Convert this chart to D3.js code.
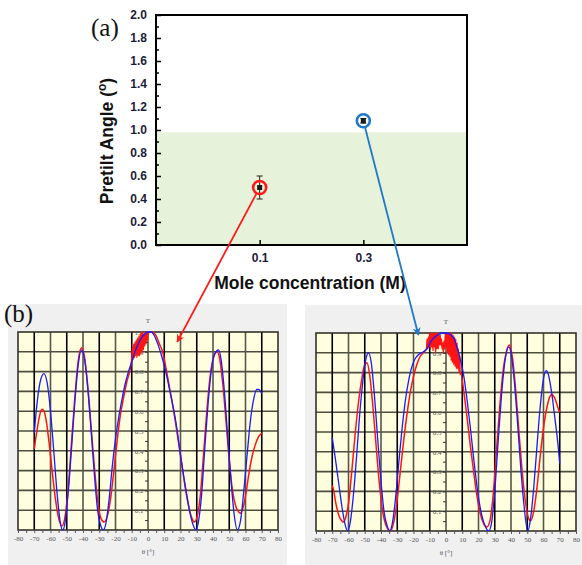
<!DOCTYPE html>
<html>
<head>
<meta charset="utf-8">
<script src="https://cdn.jsdelivr.net/npm/d3@7"></script>
<style>
  body { margin: 0; background: #fff; }
  svg { display: block; }
</style>
</head>
<body>
<script>
// ---- (a) pretilt data ----
var concentrations = [0.1, 0.3];
var pretilt = [0.5, 1.08];
var pretiltErr = [0.1, 0.02];
var pointColors = ["#ff1a1a", "#1f78c8"];
var greenBandTop = 0.98;
var concTicks = [0.1, 0.3];

// ---- (b) transmission curves, [angle, T] ----
var leftBlue = [[-70,0.49],[-68,0.66],[-66,0.76],[-64,0.79],[-62,0.74],[-60,0.6],[-58,0.4],[-56,0.19],[-54,0.04],[-52.5,0],[-51,0.04],[-49,0.2],[-47,0.42],[-45,0.65],[-43,0.83],[-41,0.91],[-39,0.86],[-37,0.71],[-35,0.5],[-33,0.28],[-31,0.1],[-29,0.02],[-27.5,0],[-26,0.03],[-24,0.15],[-22,0.32],[-20,0.46],[-18,0.57],[-16,0.66],[-14,0.74],[-12,0.8],[-10,0.85],[-8,0.9],[-6,0.94],[-4,0.97],[-2,0.99],[0,1.0],[2,1.0],[4,0.98],[6,0.94],[8,0.89],[10,0.83],[12,0.76],[14,0.68],[16,0.6],[18,0.5],[20,0.38],[22,0.27],[24,0.17],[26,0.08],[28,0.02],[29.5,0],[31,0.04],[33,0.18],[35,0.42],[37,0.64],[39,0.81],[41,0.89],[43.5,0.91],[45,0.86],[47,0.7],[49,0.48],[51,0.26],[53,0.08],[55,0],[57,0.05],[59,0.2],[61,0.38],[63,0.55],[65,0.66],[67,0.71],[68,0.71],[70,0.69]];
var leftRed = [[-70,0.41],[-68,0.52],[-66,0.6],[-65,0.61],[-63,0.57],[-61,0.45],[-59,0.3],[-57,0.16],[-55,0.06],[-53,0.02],[-51,0.07],[-49,0.22],[-47,0.45],[-45,0.67],[-43,0.85],[-41,0.92],[-39,0.87],[-37,0.72],[-35,0.52],[-33,0.32],[-31,0.15],[-29,0.06],[-27,0.04],[-25,0.07],[-23,0.16],[-21,0.3],[-19,0.45],[-17,0.58],[-15,0.67],[-13,0.75],[-11,0.81],
  [-10,0.86],[-9.6,0.92],[-9.2,0.86],[-8.8,0.94],[-8.4,0.87],[-8,0.95],[-7.6,0.88],[-7.2,0.96],[-6.8,0.87],[-6.4,0.97],[-6,0.88],[-5.6,0.98],[-5.2,0.88],[-4.8,0.99],[-4.4,0.89],[-4,1.0],[-3.6,0.9],[-3.2,1.0],[-2.8,0.91],[-2.4,0.99],[-2,0.93],[-1.6,1.0],[-1.2,0.94],[-0.8,1.0],[-0.4,0.96],
  [0,0.99],[1,1.0],[3,1.0],[5,0.98],[7,0.94],[9,0.9],[11,0.82],[13,0.73],[15,0.64],[17,0.54],[19,0.43],[21,0.32],[23,0.21],[25,0.12],[27,0.06],[28.5,0.04],[30,0.06],[32,0.16],[34,0.36],[36,0.58],[38,0.76],[40,0.86],[42.5,0.9],[44,0.87],[46,0.74],[48,0.55],[50,0.35],[52,0.2],[54,0.12],[56,0.09],[57,0.085],[58,0.1],[60,0.17],[62,0.28],[64,0.37],[66,0.43],[68,0.47],[70,0.49]];
var rightBlue = [[-70,0.47],[-68,0.36],[-66,0.24],[-64,0.12],[-62,0.03],[-60.5,0],[-59,0.04],[-57,0.18],[-55,0.38],[-53,0.6],[-51,0.77],[-49,0.88],[-47.6,0.9],[-46,0.85],[-44,0.68],[-42,0.46],[-40,0.25],[-38,0.09],[-36,0.02],[-34.7,0],[-33,0.04],[-31,0.17],[-29,0.35],[-27,0.52],[-25,0.66],[-23,0.76],[-21,0.83],[-19,0.87],[-17,0.89],[-15,0.9],[-13,0.91],[-11,0.93],[-9,0.96],[-7,0.98],[-5,0.99],[-3,1.0],[0,1.0],[3,0.99],[5,0.97],[7,0.92],[9,0.86],[11,0.78],[13,0.66],[15,0.52],[17,0.37],[19,0.23],[21,0.12],[23,0.05],[25,0.01],[26.3,0],[28,0.04],[30,0.2],[32,0.44],[34,0.67],[36,0.84],[38.6,0.93],[40,0.9],[42,0.76],[44,0.55],[46,0.32],[48,0.13],[50.3,0],[52,0.06],[54,0.22],[56,0.43],[58,0.63],[60,0.77],[61.7,0.81],[63,0.79],[65,0.7],[67,0.57],[69,0.43],[70,0.34]];
var rightRed = [[-70,0.23],[-69,0.2],[-68,0.15],[-66,0.08],[-64,0.05],[-63,0.045],[-62,0.06],[-60,0.14],[-58,0.3],[-56,0.48],[-54,0.64],[-52,0.76],[-50,0.84],[-48.6,0.85],[-47,0.79],[-45,0.63],[-43,0.43],[-41,0.24],[-39,0.1],[-37,0.03],[-34.3,0],[-32,0.05],[-30,0.16],[-28,0.31],[-26,0.46],[-24,0.59],[-22,0.7],[-20,0.78],[-18,0.84],[-16,0.88],[-14,0.9],
  [-12,0.92],[-11.6,0.97],[-11.2,0.92],[-10.8,0.98],[-10.4,0.93],[-10,1.0],[-9.6,0.92],[-9.2,1.0],[-8.8,0.93],[-8.4,1.0],[-8,0.91],[-7.6,1.0],[-7.2,0.93],[-6.8,1.0],[-6.4,0.9],[-6,1.0],[-5.6,0.92],[-5.2,1.0],[-4.8,0.92],[-4.4,0.99],[-4,0.94],[-3.6,0.99],[-3.2,0.94],[-2.8,0.97],[-2.4,0.92],[-2,0.95],[-1.6,0.9],[-1.2,0.96],[-0.8,0.92],[-0.4,1.0],[0,0.93],[0.4,1.0],[0.8,0.9],[1.2,1.0],[1.6,0.89],[2,1.0],[2.4,0.88],[2.8,1.0],[3.2,0.86],[3.6,1.0],[4,0.85],[4.4,0.99],[4.8,0.84],[5.2,0.98],[5.6,0.83],[6,0.97],[6.4,0.82],[6.8,0.95],[7.2,0.82],[7.6,0.92],[8,0.8],[8.4,0.89],[8.7,0.79],
  [9,0.8],[11,0.7],[13,0.57],[15,0.43],[17,0.3],[19,0.18],[21,0.09],[23,0.04],[25.2,0.02],[27,0.05],[29,0.18],[31,0.4],[33,0.62],[35,0.8],[37,0.9],[39,0.94],[41,0.87],[43,0.7],[45,0.49],[47,0.29],[49,0.14],[51,0.06],[52,0.05],[54,0.1],[56,0.22],[58,0.38],[60,0.52],[62,0.62],[64,0.68],[65,0.69],[67,0.67],[69,0.62],[70,0.6]];

// where the connector arrows land, in (angle, T) of each lower panel
var arrowTargets = [[18, 0.95], [-17, 0.99]];

var W = 582, H = 565;
var svg = d3.select("body").append("svg").attr("width", W).attr("height", H);

var defs = svg.append("defs");
pointColors.forEach(function(c, i) {
    defs.append("marker")
        .attr("id", "arr" + i)
        .attr("viewBox", "0 -5 10 10")
        .attr("refX", 9).attr("refY", 0)
        .attr("markerWidth", 4.5).attr("markerHeight", 4.5)
        .attr("orient", "auto")
        .append("path")
        .attr("d", "M0,-5L10,0L0,5L3,0Z")
        .attr("fill", c);
});

// ---------- lower panels ----------
var panels = [
    {bg: [8, 304, 279, 261], box: {x0: 18, x1: 278, y0: 332, y1: 530}, blue: leftBlue, red: leftRed},
    {bg: [305, 305, 277, 260], box: {x0: 316, x1: 576, y0: 333, y1: 531}, blue: rightBlue, red: rightRed}
];

panels.forEach(function(p, pi) {
    var g = svg.append("g");
    g.append("rect").attr("x", p.bg[0]).attr("y", p.bg[1]).attr("width", p.bg[2]).attr("height", p.bg[3])
        .attr("fill", "#f0f0f0");

    var b = p.box;
    var x = d3.scaleLinear().domain([-80, 80]).range([b.x0, b.x1]);
    var y = d3.scaleLinear().domain([0, 1]).range([b.y1, b.y0]);
    p.x = x; p.y = y;

    g.append("rect").attr("x", b.x0).attr("y", b.y0).attr("width", b.x1 - b.x0).attr("height", b.y1 - b.y0)
        .attr("fill", "#ffffe0");

    var clipId = "clip" + pi;
    defs.append("clipPath").attr("id", clipId).append("rect")
        .attr("x", b.x0).attr("y", b.y0 - 1).attr("width", b.x1 - b.x0).attr("height", b.y1 - b.y0 + 1);

    // grid
    g.append("g").selectAll("line")
        .data(d3.range(1, 10).map(function(d) { return d / 10; }))
        .enter().append("line")
        .attr("x1", b.x0).attr("x2", b.x1)
        .attr("y1", function(d) { return y(d); }).attr("y2", function(d) { return y(d); })
        .attr("stroke", "#4d4d40").attr("stroke-width", 1.6);
    g.append("g").selectAll("line")
        .data(d3.range(-70, 80, 10))
        .enter().append("line")
        .attr("x1", function(d) { return x(d); }).attr("x2", function(d) { return x(d); })
        .attr("y1", b.y0).attr("y2", b.y1)
        .attr("stroke", function(d, i) { return i % 2 === 0 ? "#000" : "#55554a"; })
        .attr("stroke-width", 1.6);
    g.append("rect").attr("x", b.x0).attr("y", b.y0).attr("width", b.x1 - b.x0).attr("height", b.y1 - b.y0)
        .attr("fill", "none").attr("stroke", "#33332a").attr("stroke-width", 1.6);

    // x axis
    var xAxis = d3.axisBottom(x).tickValues(d3.range(-80, 81, 5)).tickSize(3).tickPadding(3)
        .tickFormat(function(d) { return d % 10 === 0 ? d3.format("d")(d).replace("\u2212", "-") : ""; });
    var xa = g.append("g").attr("transform", "translate(0," + b.y1 + ")").call(xAxis);
    xa.select(".domain").remove();
    xa.selectAll("line").attr("stroke", "#555");
    xa.selectAll("text").attr("fill", "#555").style("font", "7px 'Liberation Serif'");

    // T axis on theta = 0
    var yAxis = d3.axisLeft(y).tickValues(d3.range(1, 20).map(function(d) { return d / 20; }).concat([1]))
        .tickSize(3).tickPadding(1.5)
        .tickFormat(function(d) { return Math.round(d * 20) % 2 === 0 ? d3.format(".1f")(d) : ""; });
    var ya = g.append("g").attr("transform", "translate(" + x(0) + ",0)").call(yAxis);
    ya.select(".domain").remove();
    ya.selectAll("line").attr("stroke", "#333");
    ya.selectAll("text").attr("fill", "#555").style("font", "7px 'Liberation Serif'");

    g.append("text").attr("x", x(0)).attr("y", b.y0 - 9).attr("text-anchor", "middle")
        .attr("fill", "#555").style("font", "7px 'Liberation Serif'").text("T");
    g.append("text").attr("x", x(0)).attr("y", b.y1 + 24).attr("text-anchor", "middle")
        .attr("fill", "#555").style("font", "7px 'Liberation Serif'").text("\u03b8 [\u00b0]");

    var line = d3.line()
        .x(function(d) { return x(d[0]); })
        .y(function(d) { return y(d[1]); })
        .curve(d3.curveMonotoneX);
    var curves = g.append("g").attr("clip-path", "url(#" + clipId + ")");
    curves.append("path").attr("d", line(p.red)).attr("fill", "none")
        .attr("stroke", "#ff1414").attr("stroke-width", 1.5);
    curves.append("path").attr("d", line(p.blue)).attr("fill", "none")
        .attr("stroke", "#1a1aff").attr("stroke-width", 1.3);
});

svg.append("text").attr("x", 4).attr("y", 322)
    .style("font", "25px 'Liberation Serif'").attr("fill", "#111").text("(b)");

// ---------- (a) pretilt chart ----------
var xs = d3.scaleLinear().domain([-0.1, 0.5]).range([156, 467]);
var ys = d3.scaleLinear().domain([0, 2]).range([245, 15]);
var chartA = svg.append("g");

chartA.append("rect").attr("x", xs(-0.1)).attr("y", ys(greenBandTop))
    .attr("width", xs(0.5) - xs(-0.1)).attr("height", ys(0) - ys(greenBandTop))
    .attr("fill", "#e6f2d9");

var minor = d3.axisLeft(ys).tickValues(d3.range(1, 20, 2).map(function(d) { return d / 10; }))
    .tickSizeInner(-3).tickSizeOuter(0).tickFormat("");
chartA.append("g").attr("transform", "translate(156,0)").call(minor)
    .call(function(s) { s.select(".domain").remove(); s.selectAll("line").attr("stroke-width", 1.5); });

var yMajor = d3.axisLeft(ys).tickValues(d3.range(0, 21, 2).map(function(d) { return d / 10; }))
    .tickSizeInner(-5).tickSizeOuter(0).tickPadding(9).tickFormat(d3.format(".1f"));
var yg = chartA.append("g").attr("transform", "translate(156,0)").call(yMajor);
yg.select(".domain").remove();
yg.selectAll("line").attr("stroke-width", 1.5);
yg.selectAll("text").attr("fill", "#1c1c3a").style("font", "bold 12px 'Liberation Sans'");

var xg = chartA.append("g").attr("transform", "translate(0,245)")
    .call(d3.axisBottom(xs).tickValues(concTicks).tickSizeInner(-5).tickSizeOuter(0).tickPadding(8)
        .tickFormat(d3.format(".1f")));
xg.select(".domain").remove();
xg.selectAll("line").attr("stroke-width", 1.5);
xg.selectAll("text").attr("fill", "#1c1c3a").style("font", "bold 12px 'Liberation Sans'");

chartA.append("rect").attr("x", 156).attr("y", 15).attr("width", 311).attr("height", 230)
    .attr("fill", "none").attr("stroke", "#000").attr("stroke-width", 2);

chartA.append("text").attr("x", 310).attr("y", 289).attr("text-anchor", "middle")
    .attr("fill", "#111").style("font", "bold 17.5px 'Liberation Sans'").text("Mole concentration (M)");
var yt = chartA.append("text").attr("transform", "translate(113,141) rotate(-90)").attr("text-anchor", "middle")
    .attr("fill", "#111").style("font", "bold 17.5px 'Liberation Sans'");
yt.append("tspan").text("Pretilt Angle (");
yt.append("tspan").attr("dy", -7).style("font-size", "12px").text("o");
yt.append("tspan").attr("dy", 7).text(")");

svg.append("text").attr("x", 91).attr("y", 36)
    .style("font", "25px 'Liberation Serif'").attr("fill", "#111").text("(a)");

// error bars, squares and highlight rings
concentrations.forEach(function(c, i) {
    var cx = xs(c), v = pretilt[i], e = pretiltErr[i];
    chartA.append("line").attr("x1", cx).attr("x2", cx).attr("y1", ys(v - e)).attr("y2", ys(v + e))
        .attr("stroke", "#222").attr("stroke-width", 1);
    [v - e, v + e].forEach(function(t) {
        chartA.append("line").attr("x1", cx - 3).attr("x2", cx + 3).attr("y1", ys(t)).attr("y2", ys(t))
            .attr("stroke", "#222").attr("stroke-width", 1);
    });
    chartA.append("rect").attr("x", cx - 2.5).attr("y", ys(v) - 2.5).attr("width", 5).attr("height", 5)
        .attr("fill", "#1a1a1a");
    chartA.append("circle").attr("cx", cx).attr("cy", ys(v)).attr("r", 6.5)
        .attr("fill", "none").attr("stroke", pointColors[i]).attr("stroke-width", 2.6);
});

// connector arrows from the rings to the lower panels
concentrations.forEach(function(c, i) {
    var sx = xs(c), sy = ys(pretilt[i]);
    var tx = panels[i].x(arrowTargets[i][0]), ty = panels[i].y(arrowTargets[i][1]);
    var len = Math.sqrt((tx - sx) * (tx - sx) + (ty - sy) * (ty - sy));
    var ox = sx + (tx - sx) / len * 7.5, oy = sy + (ty - sy) / len * 7.5;
    svg.append("line").attr("x1", ox).attr("y1", oy).attr("x2", tx).attr("y2", ty)
        .attr("stroke", pointColors[i]).attr("stroke-width", 1.8)
        .attr("marker-end", "url(#arr" + i + ")");
});
</script>
</body>
</html>
